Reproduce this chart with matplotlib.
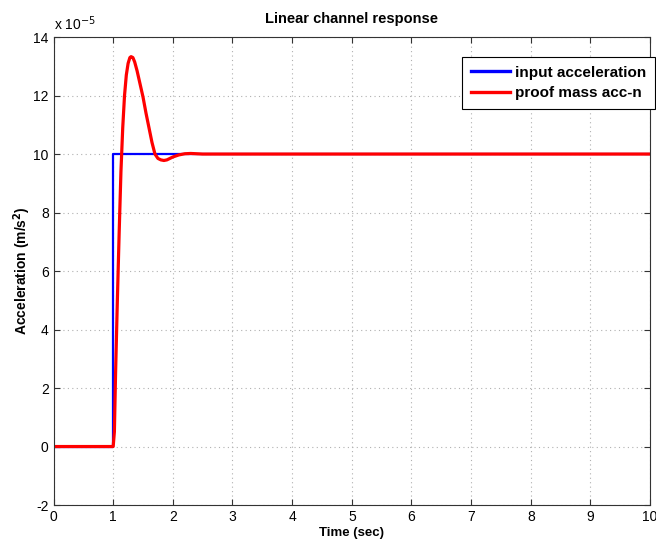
import matplotlib
matplotlib.use("Agg")
import matplotlib.pyplot as plt

# values in units of 1e-5 m/s^2
input_t = [0.0, 1.0, 1.0, 10.0]
input_acc = [0.0, 0.0, 10.0, 10.0]

mass_t = [0.0, 1.00, 1.02, 1.04, 1.07, 1.10, 1.13, 1.16, 1.19, 1.22, 1.25, 1.28,
          1.30, 1.33, 1.36, 1.40, 1.45, 1.50, 1.55, 1.60, 1.65, 1.70, 1.75,
          1.80, 1.85, 1.90, 1.95, 2.00, 2.10, 2.20, 2.30, 2.50, 10.0]
mass_acc = [0.0, 0.0, 0.5, 2.5, 5.0, 7.3, 9.4, 10.9, 12.0, 12.7, 13.1, 13.3,
            13.33, 13.3, 13.15, 12.85, 12.4, 11.95, 11.4, 10.9, 10.4, 10.0, 9.85,
            9.8, 9.78, 9.8, 9.85, 9.9, 9.97, 10.01, 10.02, 10.0, 10.0]

xticks = list(range(0, 11))
yticks = list(range(-2, 15, 2))

plt.rcParams['font.family'] = ['Liberation Sans', 'DejaVu Sans']
plt.rcParams['axes.unicode_minus'] = False

fig = plt.figure(figsize=(6.56, 5.41), dpi=100)
ax = fig.add_axes([0.0816, 0.0665, 0.9094, 0.865])

ax.plot(input_t, input_acc, color='#0000ff', lw=1.6, label='input acceleration')
ax.plot(mass_t, mass_acc, color='#ff0000', lw=2.3, label='proof mass acc-n')

ax.set_xlim(0, 10)
ax.set_ylim(-2, 14)
ax.set_xticks(xticks)
ax.set_yticks(yticks)
ax.tick_params(direction='in', top=True, right=True, labelsize=10, length=4,
               color='#333333', pad=3.5)
for s in ax.spines.values():
    s.set_color('#333333')
ax.grid(True, linestyle=(0, (1, 3)), color='#b0b0b0', linewidth=0.8)

ax.set_title('Linear channel response', fontsize=10.5, fontweight='bold', pad=10)
ax.set_xlabel('Time (sec)', fontsize=9.5, fontweight='bold', labelpad=2)
ax.set_ylabel('Acceleration (m/s$^{\\mathbf{2}}$)', fontsize=10, fontweight='bold', labelpad=0)
ax.text(0.0, 1.008, 'x 10$^{-5}$', transform=ax.transAxes, fontsize=10,
        ha='left', va='bottom')

leg = ax.legend(loc='upper left', bbox_to_anchor=(0.685, 0.957), borderaxespad=0,
                prop={'weight': 'bold', 'size': 11}, fancybox=False,
                edgecolor='black', framealpha=1, handlelength=2.6,
                handletextpad=0.3, borderpad=0.55, labelspacing=0.45)
leg.get_frame().set_linewidth(0.8)
for line in leg.get_lines():
    line.set_linewidth(2.4)

fig.savefig('out.png', dpi=100)
